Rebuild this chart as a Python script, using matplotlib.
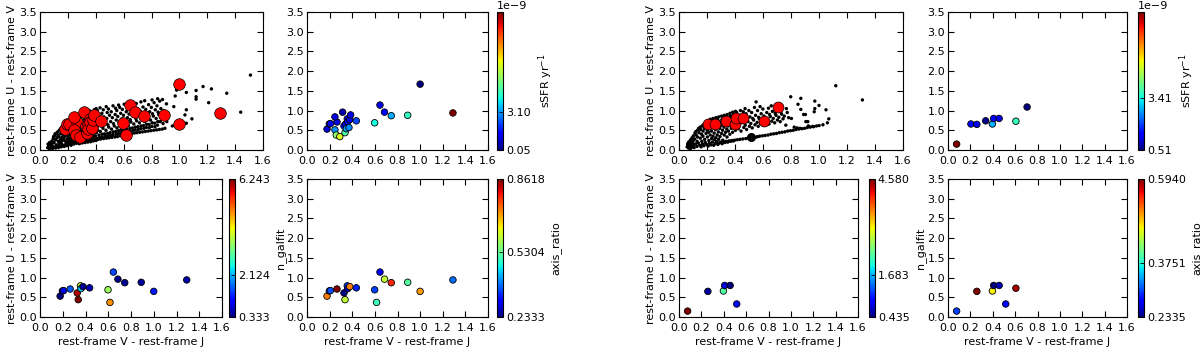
import numpy as np
import matplotlib
matplotlib.use("Agg")
import matplotlib.pyplot as plt

# ---- left sample: V-J, U-V, sSFR [1e-9 /yr], n_galfit, axis ratio ----
left_vj = [0.177, 0.197, 0.207, 0.265, 0.247, 0.247, 0.259, 0.29, 0.315, 0.336,
           0.327, 0.342, 0.347, 0.356, 0.36, 0.371, 0.378, 0.386, 0.436, 0.598,
           0.615, 0.645, 0.685, 0.745, 0.89, 1.00, 1.00, 1.29]
left_uv = [0.53, 0.66, 0.67, 0.71, 0.84, 0.51, 0.38, 0.34, 0.96, 0.44,
           0.61, 0.66, 0.54, 0.79, 0.72, 0.57, 0.77, 0.89, 0.74, 0.69,
           0.37, 1.14, 0.96, 0.87, 0.88, 1.67, 0.65, 0.94]
left_ssfr = [0.9, 1.0, 1.2, 1.0, 1.0, 3.0, 5.8, 6.8, 0.5, 5.0,
             1.3, 1.5, 3.2, 1.0, 1.6, 2.9, 1.2, 1.0, 2.2, 4.2,
             np.nan, 1.0, 1.3, 3.3, 4.6, 0.05, np.nan, 11.1]
left_n = [0.333, 0.9, 0.95, 1.6, np.nan, np.nan, np.nan, np.nan, np.nan, 6.243,
          6.0, np.nan, np.nan, 3.9, 2.3, np.nan, 0.45, np.nan, 0.6, 3.5,
          4.8, 1.5, 0.4, 0.45, 0.5, np.nan, 1.2, 0.55]
left_q = [0.72, 0.35, 0.36, 0.8618, np.nan, np.nan, np.nan, np.nan, np.nan, 0.60,
          0.2333, np.nan, np.nan, 0.35, 0.27, np.nan, 0.72, np.nan, 0.33, 0.35,
          0.50, 0.30, 0.60, 0.78, 0.52, np.nan, 0.70, 0.38]

# ---- right sample ----
right_vj = [0.077, 0.205, 0.258, 0.337, 0.397, 0.408, 0.457, 0.516, 0.607, 0.707]
right_uv = [0.15, 0.66, 0.65, 0.74, 0.66, 0.80, 0.80, 0.33, 0.73, 1.09]
right_ssfr = [8.2, 1.4, 1.3, 0.6, 2.8, 1.3, 1.2, np.nan, 3.7, 0.51]
right_n = [4.58, np.nan, 0.55, np.nan, 2.3, 0.8, 0.435, 1.0, np.nan, np.nan]
right_q = [0.30, np.nan, 0.594, np.nan, 0.47, 0.2335, 0.25, 0.28, 0.58, np.nan]
right_black = [0, 7]   # drawn as big black dots in the first panel

# colorbar middle tick values
left_mid = [3.10, 2.124, 0.5304]
right_mid = [3.41, 1.683, 0.3751]

# ---- background population ----
bg_left = [
    (0.055, 0.06), (0.062, 0.11), (0.058, 0.15), (0.067, 0.03), (0.071, 0.09), (0.074, 0.13),
    (0.069, 0.19), (0.078, 0.05), (0.083, 0.16), (0.086, 0.23), (0.092, 0.04), (0.088, 0.11),
    (0.095, 0.29), (0.097, 0.34), (0.103, 0.07), (0.101, 0.19), (0.106, 0.37), (0.108, 0.41),
    (0.113, 0.05), (0.116, 0.13), (0.112, 0.26), (0.119, 0.43), (0.124, 0.09), (0.121, 0.31),
    (0.127, 0.46), (0.129, 0.38), (0.133, 0.06), (0.136, 0.16), (0.131, 0.22), (0.138, 0.49),
    (0.134, 0.34), (0.144, 0.10), (0.147, 0.27), (0.141, 0.51), (0.149, 0.41), (0.153, 0.08),
    (0.152, 0.19), (0.156, 0.32), (0.151, 0.56), (0.158, 0.46), (0.163, 0.12), (0.161, 0.25),
    (0.167, 0.39), (0.164, 0.59), (0.169, 0.49), (0.174, 0.09), (0.172, 0.31), (0.177, 0.63),
    (0.171, 0.44), (0.183, 0.14), (0.186, 0.21), (0.181, 0.36), (0.188, 0.53), (0.184, 0.66),
    (0.193, 0.11), (0.196, 0.28), (0.191, 0.43), (0.198, 0.61), (0.194, 0.71), (0.203, 0.13),
    (0.206, 0.22), (0.201, 0.34), (0.208, 0.47), (0.204, 0.58), (0.209, 0.67), (0.213, 0.16),
    (0.216, 0.29), (0.211, 0.41), (0.218, 0.63), (0.214, 0.75), (0.223, 0.12), (0.226, 0.25),
    (0.221, 0.37), (0.228, 0.52), (0.224, 0.70), (0.227, 0.79), (0.233, 0.18), (0.236, 0.32),
    (0.231, 0.45), (0.238, 0.60), (0.234, 0.82), (0.243, 0.15), (0.246, 0.27), (0.241, 0.40),
    (0.248, 0.56), (0.244, 0.65), (0.249, 0.76), (0.253, 0.20), (0.256, 0.34), (0.251, 0.49),
    (0.258, 0.62), (0.254, 0.86), (0.263, 0.17), (0.266, 0.29), (0.261, 0.43), (0.268, 0.58),
    (0.264, 0.72), (0.269, 0.81), (0.273, 0.19), (0.276, 0.36), (0.271, 0.50), (0.278, 0.68),
    (0.274, 0.88), (0.283, 0.16), (0.286, 0.24), (0.281, 0.44), (0.288, 0.56), (0.284, 0.77),
    (0.289, 0.92), (0.293, 0.21), (0.296, 0.32), (0.291, 0.47), (0.298, 0.64), (0.294, 0.83),
    (0.303, 0.18), (0.306, 0.27), (0.301, 0.40), (0.308, 0.53), (0.304, 0.70), (0.309, 0.90),
    (0.302, 0.97), (0.313, 0.23), (0.316, 0.35), (0.311, 0.60), (0.318, 0.78), (0.314, 0.86),
    (0.323, 0.19), (0.326, 0.30), (0.321, 0.45), (0.328, 0.66), (0.324, 0.93), (0.333, 0.22),
    (0.336, 0.38), (0.331, 0.52), (0.338, 0.74), (0.334, 0.99), (0.343, 0.20), (0.346, 0.28),
    (0.341, 0.43), (0.348, 0.62), (0.344, 0.82), (0.349, 0.90), (0.353, 0.24), (0.356, 0.36),
    (0.351, 0.57), (0.358, 0.70), (0.354, 1.00), (0.363, 0.21), (0.366, 0.31), (0.361, 0.48),
    (0.368, 0.65), (0.364, 0.87), (0.373, 0.25), (0.376, 0.40), (0.371, 0.55), (0.378, 0.76),
    (0.374, 0.95), (0.383, 0.23), (0.386, 0.34), (0.381, 0.46), (0.388, 0.68), (0.384, 0.84),
    (0.389, 1.02), (0.393, 0.26), (0.396, 0.52), (0.391, 0.62), (0.398, 0.92), (0.402, 0.24),
    (0.407, 0.30), (0.404, 0.44), (0.409, 0.58), (0.401, 0.79), (0.406, 0.98), (0.403, 1.05),
    (0.417, 0.27), (0.423, 0.38), (0.414, 0.50), (0.426, 0.66), (0.419, 0.86), (0.412, 1.00),
    (0.436, 0.28), (0.441, 0.33), (0.433, 0.47), (0.447, 0.60), (0.438, 0.75), (0.444, 0.93),
    (0.431, 1.07), (0.456, 0.29), (0.463, 0.41), (0.452, 0.55), (0.467, 0.70), (0.459, 0.84),
    (0.454, 1.02), (0.477, 0.30), (0.484, 0.36), (0.473, 0.50), (0.487, 0.64), (0.479, 0.80),
    (0.482, 0.95), (0.475, 1.10), (0.496, 0.31), (0.503, 0.44), (0.493, 0.58), (0.507, 0.72),
    (0.499, 0.88), (0.491, 1.04), (0.516, 0.32), (0.523, 0.39), (0.513, 0.53), (0.527, 0.67),
    (0.519, 0.82), (0.511, 0.97), (0.524, 1.12), (0.537, 0.33), (0.544, 0.47), (0.533, 0.61),
    (0.547, 0.76), (0.539, 0.90), (0.542, 1.06), (0.556, 0.34), (0.563, 0.42), (0.552, 0.56),
    (0.567, 0.70), (0.558, 0.85), (0.551, 1.00), (0.564, 1.14), (0.577, 0.36), (0.583, 0.50),
    (0.573, 0.64), (0.587, 0.79), (0.579, 0.93), (0.572, 1.08), (0.596, 0.37), (0.603, 0.45),
    (0.593, 0.60), (0.607, 0.74), (0.599, 0.88), (0.591, 1.03), (0.604, 1.16), (0.616, 0.39),
    (0.623, 0.53), (0.613, 0.68), (0.627, 0.82), (0.619, 0.97), (0.636, 0.40), (0.643, 0.48),
    (0.633, 0.62), (0.647, 0.77), (0.639, 0.91), (0.631, 1.10), (0.644, 1.20), (0.656, 0.41),
    (0.663, 0.56), (0.652, 0.71), (0.667, 0.86), (0.659, 1.01), (0.677, 0.43), (0.683, 0.51),
    (0.673, 0.66), (0.687, 0.80), (0.679, 0.95), (0.671, 1.12), (0.696, 0.44), (0.703, 0.59),
    (0.693, 0.74), (0.707, 0.89), (0.699, 1.05), (0.691, 1.18), (0.716, 0.45), (0.723, 0.54),
    (0.713, 0.69), (0.727, 0.84), (0.719, 0.99), (0.724, 1.22), (0.736, 0.46), (0.743, 0.62),
    (0.733, 0.78), (0.747, 0.93), (0.739, 1.09), (0.756, 0.47), (0.763, 0.57), (0.752, 0.72),
    (0.767, 0.88), (0.759, 1.03), (0.751, 1.25), (0.777, 0.48), (0.783, 0.65), (0.773, 0.82),
    (0.787, 0.97), (0.779, 1.15), (0.796, 0.49), (0.803, 0.60), (0.793, 0.76), (0.807, 0.92),
    (0.799, 1.08), (0.804, 1.27), (0.816, 0.50), (0.823, 0.68), (0.813, 0.86), (0.827, 1.02),
    (0.819, 1.20), (0.836, 0.51), (0.843, 0.63), (0.833, 0.80), (0.847, 0.96), (0.839, 1.12),
    (0.844, 1.30), (0.856, 0.52), (0.863, 0.72), (0.852, 0.90), (0.867, 1.05), (0.859, 1.24),
    (0.877, 0.53), (0.883, 0.67), (0.873, 0.85), (0.887, 1.00), (0.879, 1.28), (0.896, 0.55),
    (0.903, 0.76), (0.893, 0.94), (0.907, 1.17),
    (0.145, 0.22), (0.157, 0.14), (0.166, 0.33), (0.176, 0.24), (0.187, 0.46), (0.197, 0.18),
    (0.207, 0.38), (0.217, 0.21), (0.226, 0.44), (0.236, 0.24), (0.247, 0.46), (0.257, 0.23),
    (0.266, 0.37), (0.277, 0.26), (0.287, 0.35), (0.297, 0.25), (0.307, 0.46), (0.317, 0.29),
    (0.327, 0.37), (0.337, 0.30), (0.347, 0.50), (0.357, 0.29), (0.367, 0.42), (0.377, 0.32),
    (0.387, 0.57), (0.397, 0.36), (0.425, 0.31), (0.445, 0.40), (0.465, 0.35), (0.485, 0.42),
    (0.505, 0.37), (0.525, 0.46), (0.545, 0.40), (0.565, 0.49), (0.585, 0.43), (0.605, 0.52),
    (0.625, 0.46), (0.645, 0.55), (0.665, 0.49), (0.685, 0.58), (0.705, 0.52), (0.725, 0.61),
    (0.745, 0.55), (0.765, 0.65), (0.785, 0.57), (0.805, 0.69), (0.825, 0.59), (0.845, 0.72),
    (0.91, 0.72), (0.95, 0.61), (0.96, 1.10), (0.97, 1.37), (0.98, 1.52), (1.04, 0.89),
    (1.05, 1.02), (1.05, 0.68), (1.05, 1.46), (1.09, 0.79), (1.12, 1.51), (1.12, 1.35),
    (1.12, 1.29), (1.17, 1.61), (1.21, 1.20), (1.23, 1.55), (1.34, 1.44), (1.44, 0.96),
    (1.51, 1.90),
]

bg_right = [
    (0.058, 0.08), (0.063, 0.13), (0.068, 0.05), (0.072, 0.21), (0.077, 0.10), (0.083, 0.26),
    (0.081, 0.03), (0.088, 0.18), (0.093, 0.31), (0.091, 0.07), (0.098, 0.12), (0.103, 0.36),
    (0.101, 0.24), (0.108, 0.06), (0.112, 0.28), (0.114, 0.43), (0.118, 0.15), (0.123, 0.38),
    (0.121, 0.47), (0.128, 0.09), (0.132, 0.33), (0.134, 0.51), (0.129, 0.22), (0.138, 0.18),
    (0.143, 0.44), (0.141, 0.55), (0.148, 0.12), (0.152, 0.30), (0.154, 0.52), (0.151, 0.58),
    (0.158, 0.08), (0.163, 0.22), (0.161, 0.40), (0.166, 0.61), (0.168, 0.15), (0.172, 0.48),
    (0.174, 0.64), (0.171, 0.35), (0.178, 0.11), (0.183, 0.27), (0.181, 0.55), (0.186, 0.67),
    (0.188, 0.19), (0.193, 0.42), (0.191, 0.61), (0.196, 0.70), (0.198, 0.14), (0.203, 0.33),
    (0.201, 0.50), (0.206, 0.58), (0.204, 0.73), (0.208, 0.10), (0.213, 0.24), (0.211, 0.45),
    (0.216, 0.64), (0.214, 0.75), (0.218, 0.17), (0.223, 0.38), (0.221, 0.55), (0.226, 0.69),
    (0.224, 0.78), (0.228, 0.13), (0.233, 0.29), (0.231, 0.48), (0.236, 0.62), (0.234, 0.74),
    (0.238, 0.20), (0.243, 0.35), (0.241, 0.57), (0.246, 0.68), (0.244, 0.80), (0.248, 0.12),
    (0.253, 0.26), (0.251, 0.43), (0.256, 0.63), (0.254, 0.76), (0.258, 0.16), (0.263, 0.31),
    (0.261, 0.52), (0.266, 0.71), (0.264, 0.82), (0.268, 0.21), (0.273, 0.38), (0.271, 0.59),
    (0.276, 0.66), (0.274, 0.78), (0.278, 0.14), (0.283, 0.27), (0.281, 0.46), (0.286, 0.73),
    (0.284, 0.84), (0.288, 0.18), (0.293, 0.34), (0.291, 0.55), (0.296, 0.69), (0.298, 0.20),
    (0.303, 0.42), (0.301, 0.62), (0.306, 0.77), (0.304, 0.86), (0.308, 0.16), (0.313, 0.25),
    (0.311, 0.50), (0.316, 0.70), (0.318, 0.21), (0.323, 0.38), (0.321, 0.58), (0.326, 0.80),
    (0.324, 0.88), (0.328, 0.19), (0.333, 0.45), (0.331, 0.66), (0.336, 0.74), (0.338, 0.22),
    (0.343, 0.33), (0.341, 0.53), (0.346, 0.83), (0.344, 0.90), (0.348, 0.20), (0.353, 0.48),
    (0.351, 0.61), (0.356, 0.78), (0.358, 0.23), (0.363, 0.40), (0.361, 0.70), (0.366, 0.86),
    (0.364, 0.93), (0.368, 0.22), (0.373, 0.55), (0.371, 0.64), (0.376, 0.80), (0.378, 0.24),
    (0.383, 0.45), (0.381, 0.74), (0.386, 0.89), (0.384, 0.96), (0.388, 0.23), (0.393, 0.58),
    (0.391, 0.68), (0.396, 0.84), (0.398, 0.25), (0.403, 0.50), (0.401, 0.77), (0.406, 0.92),
    (0.404, 0.98), (0.417, 0.26), (0.423, 0.54), (0.414, 0.62), (0.426, 0.72), (0.419, 0.86),
    (0.412, 0.95), (0.436, 0.27), (0.443, 0.48), (0.433, 0.66), (0.447, 0.80), (0.439, 1.00),
    (0.456, 0.28), (0.463, 0.57), (0.452, 0.70), (0.467, 0.88), (0.459, 0.97), (0.477, 0.29),
    (0.483, 0.52), (0.473, 0.63), (0.487, 0.76), (0.479, 0.92), (0.472, 1.05), (0.496, 0.30),
    (0.503, 0.60), (0.493, 0.72), (0.507, 0.84), (0.499, 1.00), (0.516, 0.31), (0.523, 0.56),
    (0.513, 0.67), (0.527, 0.80), (0.519, 0.95), (0.536, 0.32), (0.543, 0.64), (0.533, 0.76),
    (0.547, 0.88), (0.539, 1.08), (0.553, 0.33), (0.551, 1.22), (0.563, 0.34), (0.566, 0.60),
    (0.558, 0.70), (0.569, 0.83), (0.561, 1.00), (0.576, 0.35), (0.583, 0.67), (0.573, 0.79),
    (0.587, 0.92), (0.579, 1.10), (0.596, 0.36), (0.603, 0.63), (0.593, 0.74), (0.607, 0.86),
    (0.599, 1.04), (0.616, 0.37), (0.623, 0.70), (0.613, 0.82), (0.627, 0.95), (0.636, 0.38),
    (0.643, 0.66), (0.633, 0.77), (0.647, 0.90), (0.639, 1.06), (0.656, 0.40), (0.663, 0.73),
    (0.652, 0.85), (0.667, 0.98), (0.659, 1.12), (0.676, 0.41), (0.683, 0.69), (0.673, 0.80),
    (0.687, 0.93), (0.696, 0.42), (0.703, 0.76), (0.693, 0.88), (0.707, 1.02), (0.716, 0.44),
    (0.723, 0.72), (0.713, 0.83), (0.727, 0.97), (0.719, 1.15), (0.736, 0.45), (0.743, 0.79),
    (0.733, 0.91), (0.756, 0.46), (0.763, 0.63), (0.752, 0.86), (0.767, 1.05), (0.776, 0.48),
    (0.783, 0.82), (0.773, 0.95), (0.796, 0.49), (0.803, 0.80), (0.798, 1.35), (0.816, 0.50),
    (0.823, 0.58), (0.836, 0.52), (0.843, 0.56), (0.856, 0.53), (0.863, 0.55), (0.878, 0.54),
    (0.897, 0.55), (0.903, 0.90), (0.906, 0.72), (0.917, 0.57), (0.924, 0.61), (0.938, 0.58),
    (0.955, 0.60), (0.962, 0.59), (0.966, 0.97), (0.982, 0.61), (1.001, 0.62), (1.028, 0.64),
    (0.85, 1.16), (0.87, 1.31), (0.87, 1.03), (0.89, 0.90), (0.92, 0.72), (0.97, 1.24),
    (1.00, 1.13), (0.97, 1.05), (1.05, 1.02), (1.07, 0.79), (1.06, 0.69), (1.12, 1.63),
    (1.31, 1.27),
]

W, H = 1200, 350
fig = plt.figure(figsize=(12, 3.5), dpi=100, facecolor="white")
FS = 8


def box(x0, y0, x1, y1):
    return [x0 / W, 1 - y1 / H, (x1 - x0) / W, (y1 - y0) / H]


def style(ax, ylabel=False, xlabel=False):
    ax.set_xlim(0, 1.6)
    ax.set_ylim(0, 3.5)
    ax.set_xticks(np.arange(0, 1.61, 0.2))
    ax.set_yticks(np.arange(0, 3.51, 0.5))
    ax.xaxis.set_major_formatter(matplotlib.ticker.FormatStrFormatter("%.1f"))
    ax.yaxis.set_major_formatter(matplotlib.ticker.FormatStrFormatter("%.1f"))
    ax.tick_params(direction="in", top=True, right=True, length=4, width=0.8,
                   labelsize=FS)
    ax.tick_params(axis="y", pad=2)
    ax.tick_params(axis="x", pad=4)
    for s in ax.spines.values():
        s.set_linewidth(0.8)
    if ylabel:
        ax.set_ylabel("rest-frame U - rest-frame V", fontsize=FS, labelpad=2)
    if xlabel:
        ax.set_xlabel("rest-frame V - rest-frame J", fontsize=FS, labelpad=3)


def colored(axbox, cbbox, vj, uv, val, mid, fmt, label, ylabel, xlabel, offset=None):
    ax = fig.add_axes(box(*axbox))
    vj = np.asarray(vj); uv = np.asarray(uv); val = np.asarray(val, float)
    ok = ~np.isnan(val)
    vmin, vmax = val[ok].min(), val[ok].max()
    sc = ax.scatter(vj[ok], uv[ok], c=val[ok], cmap="jet", vmin=vmin, vmax=vmax,
                    s=22, edgecolors="k", linewidths=0.6, zorder=3)
    style(ax, ylabel, xlabel)
    cax = fig.add_axes(box(*cbbox))
    cb = fig.colorbar(sc, cax=cax)
    cb.outline.set_linewidth(0.8)
    ticks = [vmin, mid] if offset else [vmin, mid, vmax]
    cb.set_ticks(ticks)
    cb.set_ticklabels([fmt % t for t in ticks])
    cax.tick_params(labelsize=FS, length=3, width=0.6, direction="in", pad=2)
    cb.set_label(label, fontsize=FS, labelpad=4)
    if offset:
        cax.text(0.0, 1.01, offset, transform=cax.transAxes, ha="left",
                 va="bottom", fontsize=FS)
    return ax


# ---------------- left group ----------------
ax = fig.add_axes(box(40, 12, 263, 150))
bx, by = zip(*bg_left)
ax.scatter(bx, by, s=6, c="k", edgecolors="none", zorder=2)
ax.scatter(left_vj, left_uv, s=70, c="red", edgecolors="k", linewidths=0.5, zorder=3)
style(ax, ylabel=True)

colored((307, 12, 488, 150), (497, 12, 503, 150), left_vj, left_uv, left_ssfr,
        left_mid[0], "%.2f", "sSFR yr$^{-1}$", False, False, offset="1e\u22129")
colored((40, 179, 222, 317), (229, 179, 235, 317), left_vj, left_uv, left_n,
        left_mid[1], "%.3f", "n_galfit", True, True)
colored((307, 179, 488, 317), (497, 179, 503, 317), left_vj, left_uv, left_q,
        left_mid[2], "%.4f", "axis_ratio", False, True)

# ---------------- right group ----------------
ax = fig.add_axes(box(679, 12, 903, 150))
bx, by = zip(*bg_right)
ax.scatter(bx, by, s=6, c="k", edgecolors="none", zorder=2)
rv = np.asarray(right_vj); ru = np.asarray(right_uv)
red = [i for i in range(len(rv)) if i not in right_black]
ax.scatter(rv[red], ru[red], s=62, c="red", edgecolors="k", linewidths=0.5, zorder=3)
ax.scatter(rv[right_black], ru[right_black], s=30, c="k", edgecolors="k", zorder=3)
style(ax, ylabel=True)

colored((948, 12, 1127, 150), (1138, 12, 1144, 150), right_vj, right_uv, right_ssfr,
        right_mid[0], "%.2f", "sSFR yr$^{-1}$", False, False, offset="1e\u22129")
colored((679, 179, 858, 317), (869, 179, 875, 317), right_vj, right_uv, right_n,
        right_mid[1], "%.3f", "n_galfit", True, True)
colored((948, 179, 1127, 317), (1138, 179, 1144, 317), right_vj, right_uv, right_q,
        right_mid[2], "%.4f", "axis_ratio", False, True)

fig.savefig("out.png", dpi=100, facecolor="white")
